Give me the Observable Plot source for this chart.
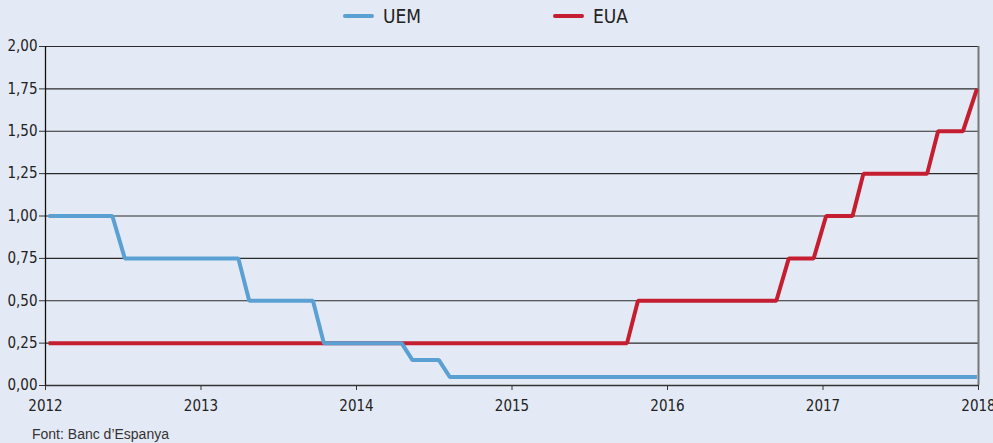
<!DOCTYPE html>
<html>
<head>
<meta charset="utf-8">
<script src="https://cdn.jsdelivr.net/npm/d3@7"></script>
<script src="https://cdn.jsdelivr.net/npm/@observablehq/plot@0.6"></script>
<style>
  html, body { margin: 0; padding: 0; background: #e4eaf5; }
  #wrap { position: relative; width: 993px; height: 443px; background: #e4eaf5; overflow: hidden; }
  .leg { position: absolute; top: 5px; font-family: "Liberation Sans Narrow", "DejaVu Sans Condensed", "Arial Narrow", sans-serif; font-size: 19px; color: #222; display: flex; align-items: center; }
  .leg span.sw { display: inline-block; width: 31px; height: 4px; border-radius: 2px; margin-right: 9px; }
  #chart { position: absolute; left: 0; top: 30px; }
  #caption { position: absolute; left: 32px; top: 426px; font-family: "Liberation Sans", Arial, sans-serif; font-size: 14px; color: #333; }
</style>
</head>
<body>
<div id="wrap">
  <div class="leg" style="left:343px"><span class="sw" style="background:#5aa0d2"></span>UEM</div>
  <div class="leg" style="left:553px"><span class="sw" style="background:#c41e30"></span>EUA</div>
  <div id="chart"></div>
  <div id="caption">Font: Banc d’Espanya</div>
</div>
<script>
// Step corners (decimal years, rate %)
const uemYears  = [2012.02, 2012.43, 2012.51, 2013.24, 2013.31, 2013.72, 2013.79, 2014.29, 2014.36, 2014.53, 2014.60, 2017.99];
const uemValues = [1.00,    1.00,    0.75,    0.75,    0.50,    0.50,    0.25,    0.25,    0.15,    0.15,    0.05,    0.05];
const euaYears  = [2012.02, 2015.74, 2015.81, 2016.70, 2016.78, 2016.94, 2017.02, 2017.19, 2017.26, 2017.67, 2017.74, 2017.90, 2017.99];
const euaValues = [0.25,    0.25,    0.50,    0.50,    0.75,    0.75,    1.00,    1.00,    1.25,    1.25,    1.50,    1.50,    1.75];
const yTicks = [0, 0.25, 0.5, 0.75, 1, 1.25, 1.5, 1.75, 2];
const xTicks = [2012, 2013, 2014, 2015, 2016, 2017, 2018];

const uem = uemYears.map((x, i) => ({x, y: uemValues[i]}));
const eua = euaYears.map((x, i) => ({x, y: euaValues[i]}));

const font = '"Liberation Sans Narrow", "DejaVu Sans Condensed", "Arial Narrow", sans-serif';

const plot = Plot.plot({
  width: 993,
  height: 395,
  marginTop: 16,
  marginBottom: 40,
  marginLeft: 45,
  marginRight: 15,
  style: { background: "transparent", fontFamily: font, fontSize: "15px", color: "#222" },
  x: { domain: [2012, 2018], type: "linear" },
  y: { domain: [0, 2] },
  marks: [
    Plot.ruleY(yTicks.filter(d => d > 0), { x1: 2012, x2: 2018, stroke: "#2a2a2a", strokeWidth: 1.2 }),
    Plot.ruleX([2018], { y1: 0, y2: 2, stroke: "#777", strokeWidth: 2 }),
    Plot.ruleX([2012], { y1: 0, y2: 2, stroke: "#111", strokeWidth: 1.3 }),
    Plot.ruleY([0], { x1: 2012, x2: 2018, stroke: "#333", strokeWidth: 1.5 }),
    Plot.axisY({ ticks: yTicks, tickSize: 6, tickPadding: 2, tickFormat: d => d3.format(".2f")(d).replace(".", ","), label: null, fontSize: 15, stroke: "#333" }),
    Plot.axisX({ ticks: xTicks, tickSize: 5, tickPadding: 10, tickFormat: d => String(d), label: null, fontSize: 15, stroke: "#333" }),
    Plot.line(eua, { x: "x", y: "y", stroke: "#c41e30", strokeWidth: 4, strokeLinejoin: "miter", strokeLinecap: "butt" }),
    Plot.line(uem, { x: "x", y: "y", stroke: "#5aa0d2", strokeWidth: 4, strokeLinejoin: "miter", strokeLinecap: "butt" })
  ]
});
document.getElementById("chart").appendChild(plot);
</script>
</body>
</html>
